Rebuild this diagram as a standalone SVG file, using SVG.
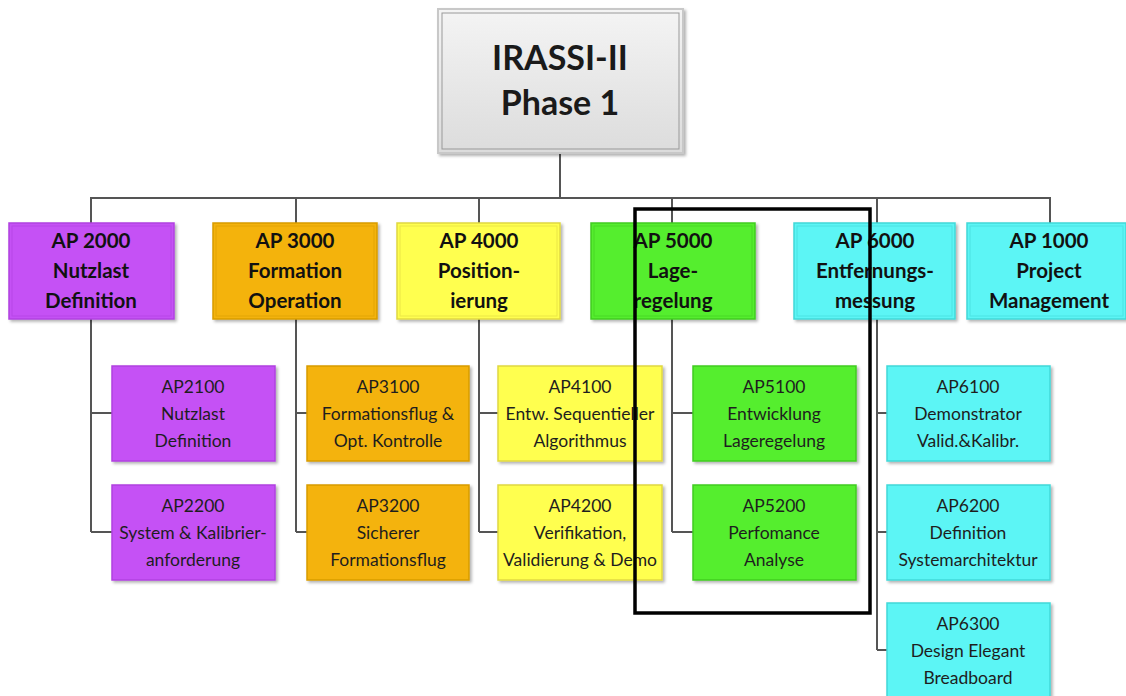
<svg xmlns="http://www.w3.org/2000/svg" width="1126" height="696" viewBox="0 0 1126 696">
<defs>
<filter id="sh" x="-10%" y="-10%" width="130%" height="130%"><feDropShadow dx="2" dy="2" stdDeviation="1.5" flood-color="#000" flood-opacity="0.3"/></filter>
<linearGradient id="gTop" x1="0" y1="0" x2="0" y2="1"><stop offset="0" stop-color="#f4f4f4"/><stop offset="1" stop-color="#dcdcdc"/></linearGradient>
</defs>
<style>
.c{fill:none;stroke:#555;stroke-width:2}
.b{stroke-width:1.5}
.in{fill:none;stroke-width:1;opacity:0.6}
.t1{font-family:Lato,"Liberation Sans",sans-serif;font-weight:bold;font-size:20.5px;fill:#111;text-anchor:middle}
.t2{font-family:Lato,"Liberation Sans",sans-serif;font-size:17.5px;fill:#1e1e1e;text-anchor:middle}
.p{fill:#c551f5;stroke:#b040e0}
.o{fill:#f4b30c;stroke:#d89c00}
.y{fill:#ffff50;stroke:#e0d840}
.g{fill:#55ee2e;stroke:#40cc20}
.cy{fill:#5cf5f5;stroke:#40d8d8}
</style>
<rect width="1126" height="696" fill="#fff"/>
<g id="connectors">
<path class="c" d="M560 153V198M91 223V198H1050V223M296 198V223M479 198V223M672 198V223M877 198V223"/>
<path class="c" d="M91 319V532M91 413H112M91 532H112"/>
<path class="c" d="M296 319V532M296 413H307M296 532H307"/>
<path class="c" d="M479 319V532M479 413H498M479 532H498"/>
<path class="c" d="M672 319V532M672 413H693M672 532H693"/>
<path class="c" d="M877 319V650M877 413H887M877 532H887M877 650H887"/>
</g>
<g id="root">
<rect x="438" y="9" width="245" height="144" fill="url(#gTop)" stroke="#c8c8c8" stroke-width="2" filter="url(#sh)"/>
<rect x="442" y="13" width="237" height="136" fill="none" stroke="#999" stroke-width="1"/>
<text x="560" y="70" style="font-family:Lato,'Liberation Sans',sans-serif;font-weight:bold;font-size:34px;fill:#1a1a1a;text-anchor:middle">IRASSI-II</text>
<text x="560" y="115" style="font-family:Lato,'Liberation Sans',sans-serif;font-weight:bold;font-size:34px;fill:#1a1a1a;text-anchor:middle">Phase 1</text>
</g>
<g id="ap2000"><rect class="p b" x="9" y="223" width="165" height="96" filter="url(#sh)"/><rect class="p in" x="12" y="226" width="159" height="90"/><text class="t1" x="91" y="248">AP 2000</text><text class="t1" x="91" y="278">Nutzlast</text><text class="t1" x="91" y="308">Definition</text></g>
<g id="ap3000"><rect class="o b" x="213" y="223" width="164" height="96" filter="url(#sh)"/><rect class="o in" x="216" y="226" width="158" height="90"/><text class="t1" x="295" y="248">AP 3000</text><text class="t1" x="295" y="278">Formation</text><text class="t1" x="295" y="308">Operation</text></g>
<g id="ap4000"><rect class="y b" x="397" y="223" width="163" height="96" filter="url(#sh)"/><rect class="y in" x="400" y="226" width="157" height="90"/><text class="t1" x="479" y="248">AP 4000</text><text class="t1" x="479" y="278">Position-</text><text class="t1" x="479" y="308">ierung</text></g>
<g id="ap5000"><rect class="g b" x="591" y="223" width="164" height="96" filter="url(#sh)"/><rect class="g in" x="594" y="226" width="158" height="90"/><text class="t1" x="673" y="248">AP 5000</text><text class="t1" x="673" y="278">Lage-</text><text class="t1" x="673" y="308">regelung</text></g>
<g id="ap6000"><rect class="cy b" x="794" y="223" width="161" height="96" filter="url(#sh)"/><rect class="cy in" x="797" y="226" width="155" height="90"/><text class="t1" x="875" y="248">AP 6000</text><text class="t1" x="875" y="278">Entfernungs-</text><text class="t1" x="875" y="308">messung</text></g>
<g id="ap1000"><rect class="cy b" x="967" y="223" width="159" height="96" filter="url(#sh)"/><rect class="cy in" x="970" y="226" width="153" height="90"/><text class="t1" x="1049" y="248">AP 1000</text><text class="t1" x="1049" y="278">Project</text><text class="t1" x="1049" y="308">Management</text></g>
<g id="ap2100"><rect class="p b" x="112" y="366" width="163" height="95" filter="url(#sh)"/><text class="t2" x="193" y="393">AP2100</text><text class="t2" x="193" y="420">Nutzlast</text><text class="t2" x="193" y="447">Definition</text></g>
<g id="ap2200"><rect class="p b" x="112" y="485" width="163" height="95" filter="url(#sh)"/><text class="t2" x="193" y="512">AP2200</text><text class="t2" x="193" y="539">System &amp; Kalibrier-</text><text class="t2" x="193" y="566">anforderung</text></g>
<g id="ap3100"><rect class="o b" x="307" y="366" width="162" height="95" filter="url(#sh)"/><text class="t2" x="388" y="393">AP3100</text><text class="t2" x="388" y="420">Formationsflug &amp;</text><text class="t2" x="388" y="447">Opt. Kontrolle</text></g>
<g id="ap3200"><rect class="o b" x="307" y="485" width="162" height="95" filter="url(#sh)"/><text class="t2" x="388" y="512">AP3200</text><text class="t2" x="388" y="539">Sicherer</text><text class="t2" x="388" y="566">Formationsflug</text></g>
<g id="ap4100"><rect class="y b" x="498" y="366" width="164" height="95" filter="url(#sh)"/><text class="t2" x="580" y="393">AP4100</text><text class="t2" x="580" y="420">Entw. Sequentieller</text><text class="t2" x="580" y="447">Algorithmus</text></g>
<g id="ap4200"><rect class="y b" x="498" y="485" width="164" height="95" filter="url(#sh)"/><text class="t2" x="580" y="512">AP4200</text><text class="t2" x="580" y="539">Verifikation,</text><text class="t2" x="580" y="566">Validierung &amp; Demo</text></g>
<g id="ap5100"><rect class="g b" x="693" y="366" width="163" height="95" filter="url(#sh)"/><text class="t2" x="774" y="393">AP5100</text><text class="t2" x="774" y="420">Entwicklung</text><text class="t2" x="774" y="447">Lageregelung</text></g>
<g id="ap5200"><rect class="g b" x="693" y="485" width="163" height="95" filter="url(#sh)"/><text class="t2" x="774" y="512">AP5200</text><text class="t2" x="774" y="539">Perfomance</text><text class="t2" x="774" y="566">Analyse</text></g>
<g id="ap6100"><rect class="cy b" x="887" y="366" width="163" height="95" filter="url(#sh)"/><text class="t2" x="968" y="393">AP6100</text><text class="t2" x="968" y="420">Demonstrator</text><text class="t2" x="968" y="447">Valid.&amp;Kalibr.</text></g>
<g id="ap6200"><rect class="cy b" x="887" y="485" width="163" height="95" filter="url(#sh)"/><text class="t2" x="968" y="512">AP6200</text><text class="t2" x="968" y="539">Definition</text><text class="t2" x="968" y="566">Systemarchitektur</text></g>
<g id="ap6300"><rect class="cy b" x="887" y="603" width="163" height="95" filter="url(#sh)"/><text class="t2" x="968" y="630">AP6300</text><text class="t2" x="968" y="657">Design Elegant</text><text class="t2" x="968" y="684">Breadboard</text></g>
<rect id="highlight" x="635" y="209" width="235" height="404" fill="none" stroke="#000" stroke-width="3.5"/>
</svg>
